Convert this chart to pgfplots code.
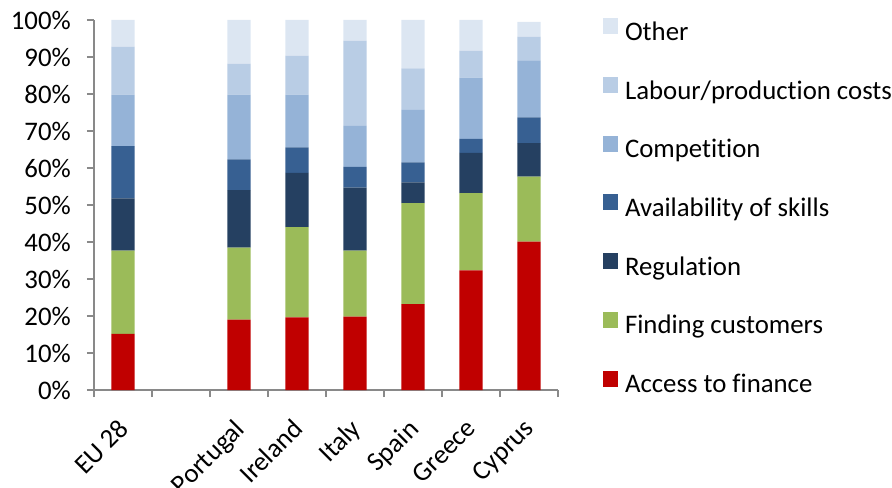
\documentclass[border=0pt]{standalone}
\usepackage{pgfplots}
\pgfplotsset{compat=1.18}
\usepackage{fontspec}
\setmainfont[Ligatures=CommonOff]{Carlito}
\definecolor{cAcc}{HTML}{C00000}
\definecolor{cFind}{HTML}{9BBB59}
\definecolor{cReg}{HTML}{254061}
\definecolor{cAva}{HTML}{376092}
\definecolor{cComp}{HTML}{95B3D7}
\definecolor{cLab}{HTML}{B9CDE5}
\definecolor{cOth}{HTML}{DCE6F2}
\definecolor{axgray}{HTML}{898989}
\begin{document}
\fontsize{26.8bp}{32bp}\selectfont
\begin{tikzpicture}
\path[use as bounding box] (-94bp,-98bp) rectangle (798bp,390bp);
\begin{axis}[
  at={(0,0)}, anchor=south west,
  scale only axis, width=464bp, height=370bp,
  ybar stacked, bar width=23.3bp,
  xmin=-0.5, xmax=7.5, ymin=0, ymax=100,
  xtick={0,2,3,4,5,6,7},
  xticklabels={EU 28,Portugal,Ireland,Italy,Spain,Greece,Cyprus},
  minor xtick={-0.5,0.5,...,7.5},
  major x tick style={draw=none},
  ytick={0,10,...,100},
  yticklabel={\pgfmathprintnumber{\tick}\%},
  /pgf/number format/assume math mode=true,
  tick align=outside,
  major tick length=7bp, minor tick length=7bp,
  axis x line*=bottom, axis y line*=left,
  axis line style={draw=axgray, line width=1.5bp, -},
  every tick/.style={draw=axgray, line width=1.5bp},
  tick label style={font=\fontsize{26.8bp}{32bp}\selectfont, text=black},
  xticklabel style={xshift=-6bp, yshift=-19bp, rotate=45, anchor=north east, inner sep=1bp},
  yticklabel style={inner sep=2bp, xshift=-14bp},
  reverse legend,
  legend cell align=left,
  legend style={draw=none, fill=none, inner sep=0pt, outer sep=0pt,
    anchor=north west, at={(rel axis cs:1.097,1.0046)},
    row sep=30.7bp, column sep=7bp,
    nodes={inner sep=0pt, text height=18bp, text depth=6bp,
      font=\fontsize{26.8bp}{32bp}\selectfont}},
  legend image code/.code={\fill[#1] (0bp,0bp) rectangle (15bp,16bp);},
]
\addplot[fill=cAcc, draw=none] coordinates {(0,15.2) (2,19.0) (3,19.6) (4,19.8) (5,23.2) (6,32.3) (7,40.1)};
\addplot[fill=cFind, draw=none] coordinates {(0,22.5) (2,19.5) (3,24.4) (4,17.9) (5,27.3) (6,20.9) (7,17.6)};
\addplot[fill=cReg, draw=none] coordinates {(0,14.1) (2,15.5) (3,14.7) (4,17.0) (5,5.6) (6,10.9) (7,9.0)};
\addplot[fill=cAva, draw=none] coordinates {(0,14.1) (2,8.3) (3,6.9) (4,5.6) (5,5.4) (6,3.8) (7,7.0)};
\addplot[fill=cComp, draw=none] coordinates {(0,13.9) (2,17.5) (3,14.2) (4,11.1) (5,14.2) (6,16.5) (7,15.4)};
\addplot[fill=cLab, draw=none] coordinates {(0,13.0) (2,8.4) (3,10.6) (4,23.0) (5,11.2) (6,7.3) (7,6.4)};
\addplot[fill=cOth, draw=none] coordinates {(0,7.2) (2,11.8) (3,9.6) (4,5.6) (5,13.1) (6,8.3) (7,4.0)};
\legend{Access to finance,Finding customers,Regulation,Availability of skills,Competition,Labour/production costs,Other}
\end{axis}
\end{tikzpicture}
\end{document}
